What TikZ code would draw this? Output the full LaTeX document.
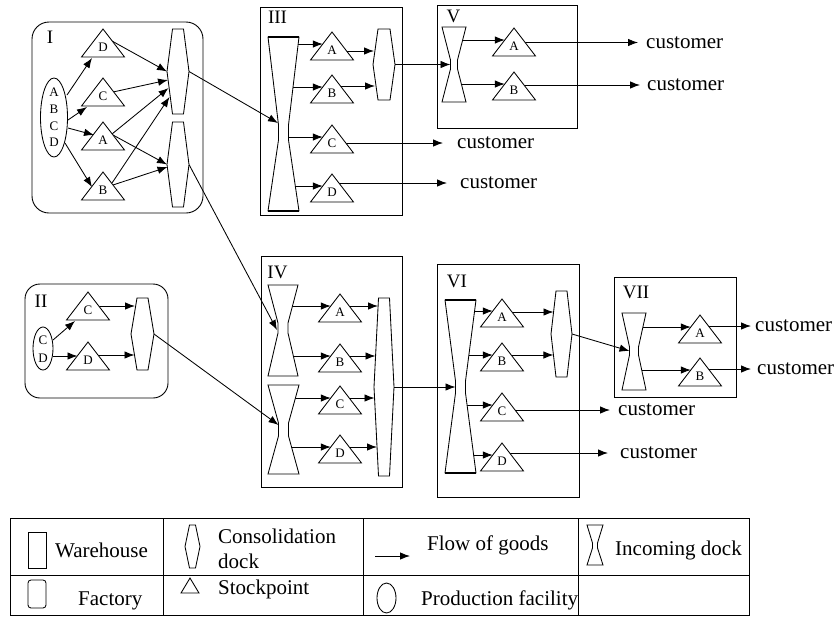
\documentclass[tikz,border=0pt]{standalone}
\usepackage{fontspec}
\setmainfont{Liberation Serif}
\usetikzlibrary{arrows.meta,shapes.geometric,calc}
\pgfdeclarelayer{bg}
\pgfsetlayers{bg,main}

% stockpoint triangle: name, apex x, apex y, label
\newcommand{\mytri}[4]{%
  \draw[shp] (#2,#3) -- ++(-21.5,28) -- ++(43,0) -- cycle;
  \node[trilab] (#1) at (#2,#3+18.5) {#4};
  \coordinate (#1-in) at (#2-9.2,#3+12);
  \coordinate (#1-a) at (#2,#3);
}
% consolidation dock: name, cx, top, bottom, half width, half top width
\newcommand{\myhex}[6]{%
  \draw[shp] (#2-#6,#3) -- (#2+#6,#3) -- (#2+#5,{(#3+#4)/2}) -- (#2+#6,#4) -- (#2-#6,#4) -- (#2-#5,{(#3+#4)/2}) -- cycle;
  \coordinate (#1) at (#2,{(#3+#4)/2});
  \coordinate (#1-l) at (#2-#5,{(#3+#4)/2});
  \coordinate (#1-r) at (#2+#5,{(#3+#4)/2});
}
% incoming dock: name, cx, top, bottom, half width, waist half width, waist top, waist bottom
\newcommand{\myglass}[8]{%
  \draw[shp] (#2-#5,#3) -- (#2+#5,#3) -- (#2+#6,#7) -- (#2+#6,#8) -- (#2+#5,#4) -- (#2-#5,#4) -- (#2-#6,#8) -- (#2-#6,#7) -- cycle;
  \coordinate (#1) at (#2,{(#7+#8)/2});
  \coordinate (#1-l) at (#2-#6,{(#7+#8)/2});
  \coordinate (#1-r) at (#2+#6,{(#7+#8)/2});
}

\begin{document}
\begin{tikzpicture}[x=1pt,y=-1pt,
  shp/.style={draw,fill=white,line width=0.85pt},
  frame/.style={draw,line width=0.9pt},
  flow/.style={line width=0.85pt,-{Latex[length=10pt,width=7.5pt]}},
  trilab/.style={inner sep=0pt,font=\fontsize{13}{15}\selectfont},
  pflab/.style={inner sep=0pt,align=center},
  roman/.style={inner sep=0pt,font=\fontsize{19}{22}\selectfont},
  cust/.style={inner sep=0pt,anchor=west,font=\fontsize{21}{25}\selectfont},
  leg/.style={inner sep=0pt,anchor=base west,font=\fontsize{21}{25}\selectfont},
  bold/.style={line width=1.8pt}
]
\useasboundingbox (0,0) rectangle (835,625);

% ---------- frames ----------
\draw[frame,rounded corners=17pt] (32,22) rectangle (203,213);
\draw[frame,rounded corners=15pt] (25,284) rectangle (168,398);
\draw[frame] (260,7) rectangle (402,215);
\draw[frame] (437,5) rectangle (577,128);
\draw[frame] (261,256) rectangle (402,487);
\draw[frame] (437,264) rectangle (579,497);
\draw[frame] (614,277) rectangle (736,397);
\node[roman] (lI) at (50,37.5) {I};
\node[roman] (lII) at (41,301) {II};
\node[roman] (lIII) at (277.5,17) {III};
\node[roman] (lIV) at (277.5,272) {IV};
\node[roman] (lV) at (453.5,16) {V};
\node[roman] (lVI) at (457,281) {VI};
\node[roman] (lVII) at (636,292) {VII};

% ---------- factory I ----------
\draw[shp] (54,117.5) ellipse [x radius=13.5pt, y radius=39.5pt];
\node[pflab,font=\fontsize{13}{16.7}\selectfont] (Ipf) at (54,117.5) {A\\B\\C\\D};
\mytri{ID}{103}{29}{D}
\mytri{IC}{103}{78}{C}
\mytri{IA}{103}{122}{A}
\mytri{IB}{103}{172}{B}
\myhex{Ih1}{178}{29}{114}{11}{5.5}
\myhex{Ih2}{178}{122}{207}{11}{5.5}

% ---------- factory II ----------
\draw[shp] (43,348.5) ellipse [x radius=10pt, y radius=21.5pt];
\node[pflab,font=\fontsize{13}{18}\selectfont] (IIpf) at (43,349) {C\\D};
\mytri{IIC}{88}{292}{C}
\mytri{IID}{88}{342}{D}
\myhex{IIh}{142.5}{298}{370}{11.5}{5.5}

% ---------- warehouse III ----------
\myglass{IIId}{283.5}{37}{211}{15.5}{5}{125}{140}
\draw[bold] (268,37) -- (299,37) (268,211) -- (299,211);
\mytri{IIIA}{332}{32}{A}
\mytri{IIIB}{332}{75}{B}
\mytri{IIIC}{332}{125}{C}
\mytri{IIID}{332}{174}{D}
\myhex{IIIh}{384}{29}{100}{11}{6}
\node[cust] (cIIIC) at (457,143) {customer};
\node[cust] (cIIID) at (460,183) {customer};

% ---------- warehouse V ----------
\myglass{Vd}{454}{27}{102}{12}{3.5}{60}{69}
\mytri{VA}{514}{28}{A}
\mytri{VB}{514}{72}{B}
\node[cust] (cVA) at (646,42.5) {customer};
\node[cust] (cVB) at (647,85) {customer};

% ---------- warehouse IV ----------
\myglass{IVu}{283}{285}{376}{15}{5}{323}{333}
\myglass{IVl}{283.5}{385}{474}{15.5}{5}{423}{436}
\mytri{IVA}{340}{294}{A}
\mytri{IVB}{340}{344}{B}
\mytri{IVC}{340}{386}{C}
\mytri{IVD}{340}{435}{D}
\myhex{IVh}{384}{298}{476}{10}{5.5}

% ---------- warehouse VI ----------
\myglass{VId}{460.5}{300}{473}{15.5}{5}{381}{393}
\draw[bold] (445,300) -- (476,300) (445,473) -- (476,473);
\mytri{VIA}{502}{299}{A}
\mytri{VIB}{502}{343}{B}
\mytri{VIC}{502}{393}{C}
\mytri{VID}{502}{443}{D}
\myhex{VIh}{561.5}{291}{377}{10.5}{5.5}
\node[cust] (cVIC) at (618,410) {customer};
\node[cust] (cVID) at (620,453) {customer};

% ---------- warehouse VII ----------
\myglass{VIId}{634}{313}{390}{12}{4.5}{347}{355}
\mytri{VIIA}{700}{315}{A}
\mytri{VIIB}{700}{358}{B}
\node[cust] (cVIIA) at (755,326) {customer};
\node[cust] (cVIIB) at (757,369) {customer};

% ---------- connectors ----------
\begin{pgfonlayer}{bg}
% I
\draw[flow] ($(Ipf)+(13,-22.5)$) -- ($(ID-a)+(-11,29)$);
\draw[flow] ($(Ipf)+(14,2.5)$) -- ($(IC-a)+(-16,29)$);
\draw[flow] ($(Ipf)+(14,10.5)$) -- ($(IA-a)+(-9,13)$);
\draw[flow] ($(Ipf)+(11,25.5)$) -- ($(IB-a)+(-11,15)$);
\draw[flow] ($(ID-a)+(9,12)$) -- (Ih1-l);
\draw[flow] ($(IC-a)+(10,14)$) -- ($(Ih1-l)+(1,8.5)$);
\draw[flow] ($(IA-a)+(9,12)$) -- ($(Ih1-l)+(1.5,16.5)$);
\draw[flow] ($(IB-a)+(9,11)$) -- ($(Ih1-l)+(2.5,25.5)$);
\draw[flow] ($(IA-a)+(10,13)$) -- (Ih2-l);
\draw[flow] ($(IB-a)+(10,13)$) -- ($(Ih2-l)+(0.5,2.5)$);
\draw[flow] (Ih1-r) -- ($(IIId-l)+(-0.5,-9.5)$);
\draw[flow] (Ih2-r) -- ($(IVu-l)+(-1,2)$);
% II
\draw[flow] ($(IIpf)+(10,-9)$) -- ($(IIC-a)+(-13,29)$);
\draw[flow] ($(IIpf)+(10,7)$) -- ($(IID-a)+(-10.5,14)$);
\draw[flow] ($(IIC-a)+(10,14)$) -- ($(IIh-l)+(4,-28)$);
\draw[flow] ($(IID-a)+(10,13)$) -- ($(IIh-l)+(3.5,21)$);
\draw[flow] (IIh-r) -- ($(IVl-l)+(0,-4.5)$);
% III
\draw[flow] (IIId |- IIIA-in) -- (IIIA-in);
\draw[flow] (IIId |- IIIB-in) -- (IIIB-in);
\draw[flow] (IIId |- IIIC-in) -- (IIIC-in);
\draw[flow] (IIId |- IIID-in) -- (IIID-in);
\draw[flow] ($(IIIA-a)+(0,19)$) -- ($(IIIh-l)+(1,-13.5)$);
\draw[flow] ($(IIIB-a)+(0,11)$) -- ($(IIIh-l)+(2,21.5)$);
\draw[flow] ($(IIIC-a)+(0,18)$) -- ($(cIIIC.west)+(-14,0)$);
\draw[flow] ($(IIID-a)+(0,9)$) -- ($(cIIID.west)+(-13,0)$);
\draw[flow] (IIIh-r) -- (IIIh-r -| Vd-l);
% V
\draw[flow] (Vd |- VA-in) -- (VA-in);
\draw[flow] (Vd |- VB-in) -- (VB-in);
\draw[flow] ($(VA-a)+(0,14.5)$) -- ($(cVA.west)+(-8,0)$);
\draw[flow] ($(VB-a)+(0,13)$) -- ($(cVB.west)+(-7,0)$);
% IV
\draw[flow] (IVu |- IVA-in) -- (IVA-in);
\draw[flow] (IVu |- IVB-in) -- (IVB-in);
\draw[flow] (IVl |- IVC-in) -- (IVC-in);
\draw[flow] (IVl |- IVD-in) -- (IVD-in);
\draw[flow] (IVA-in -| IVA-a) -- ($(IVA-in -| IVh-l)+(4,0)$);
\draw[flow] (IVB-in -| IVB-a) -- ($(IVB-in -| IVh-l)+(1.5,0)$);
\draw[flow] (IVC-in -| IVC-a) -- ($(IVC-in -| IVh-l)+(0.5,0)$);
\draw[flow] (IVD-in -| IVD-a) -- ($(IVD-in -| IVh-l)+(3,0)$);
\draw[flow] (IVh-r) -- (VId-l);
% VI
\draw[flow] (VId |- VIA-in) -- (VIA-in);
\draw[flow] (VId |- VIB-in) -- (VIB-in);
\draw[flow] (VId |- VIC-in) -- (VIC-in);
\draw[flow] (VId |- VID-in) -- (VID-in);
\draw[flow] ($(VIA-a)+(0,13)$) -- ($(VIh-l)+(2.5,-22)$);
\draw[flow] ($(VIB-a)+(0,12)$) -- ($(VIh-l)+(2.4,21)$);
\draw[flow] ($(VIC-a)+(0,17)$) -- ($(cVIC.west)+(-8,0)$);
\draw[flow] ($(VID-a)+(0,10)$) -- ($(cVID.west)+(-12,0)$);
\draw[flow] (VIh-r) -- (VIId-l);
% VII
\draw[flow] (VIId |- VIIA-in) -- (VIIA-in);
\draw[flow] (VIId |- VIIB-in) -- (VIIB-in);
\draw[flow] ($(VIIA-a)+(0,11)$) -- ($(cVIIA.west)+(-4,0)$);
\draw[flow] ($(VIIB-a)+(0,11)$) -- ($(cVIIB.west)+(-6,0)$);
\end{pgfonlayer}

% ---------- legend ----------
\draw[frame] (10,518) rectangle (749,615);
\draw[frame] (10,575) -- (749,575);
\draw[frame] (163,518) -- (163,615);
\draw[frame] (363,518) -- (363,615);
\draw[frame] (578,518) -- (578,615);
\draw[shp] (28,532) rectangle (46,568);
\node[leg] (lgW) at (55,557) {Warehouse};
\myhex{lgH}{192.5}{525}{568}{7.5}{3}
\node[leg] (lgC1) at (218,543) {Consolidation};
\node[leg] (lgC2) at (218,568) {dock};
\coordinate (lgA1) at (375,556);
\coordinate (lgA2) at (410,556);
\draw[flow] (lgA1) -- (lgA2);
\node[leg] (lgF) at (427,550) {Flow of goods};
\myglass{lgI}{595}{525}{565}{8}{2.5}{543}{548}
\node[leg] (lgIt) at (615,555) {Incoming dock};
\draw[shp,rounded corners=3pt] (28,580) rectangle (46,608);
\node[leg] (lgFa) at (78,605) {Factory};
\draw[shp] (190,578) -- (181,593) -- (199,593) -- cycle;
\node[leg] (lgS) at (218,594) {Stockpoint};
\draw[shp] (386.5,598) ellipse [x radius=9.5pt, y radius=15pt];
\node[leg] (lgP) at (421,605) {Production facility};
\end{tikzpicture}
\end{document}
